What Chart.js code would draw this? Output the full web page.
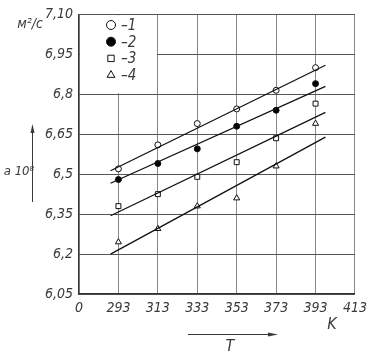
<!DOCTYPE html>
<html>
<head>
<meta charset="utf-8">
<script src="https://cdn.jsdelivr.net/npm/chart.js@4"></script>
<style>
  body { margin: 0; background: #fff; }
  canvas { display: block; }
</style>
</head>
<body>
<canvas id="chart" width="373" height="355"></canvas>
<script>
// temperatures, K
const temps = [293, 313, 333, 353, 373, 393];

// measured a*10^8, m2/s
const series1 = [6.52, 6.61, 6.69, 6.745, 6.815, 6.90];
const series2 = [6.48, 6.54, 6.595, 6.68, 6.74, 6.84];
const series3 = [6.38, 6.425, 6.49, 6.545, 6.635, 6.765];
const series4 = [6.245, 6.295, 6.38, 6.41, 6.53, 6.69];

// fitted straight lines (start / end)
const fitX = [289, 398];
const fit1 = [6.513, 6.909];
const fit2 = [6.466, 6.830];
const fit3 = [6.344, 6.732];
const fit4 = [6.200, 6.639];

const xTickValues = [273, 293, 313, 333, 353, 373, 393, 413];
const xTickLabels = ['0', '293', '313', '333', '353', '373', '393', '413'];
const yTickValues = [6.05, 6.2, 6.35, 6.5, 6.65, 6.8, 6.95, 7.10];
const yTickLabels = ['6,05', '6,2', '6,35', '6,5', '6,65', '6,8', '6,95', '7,10'];

const legendLabels = ['–1', '–2', '–3', '–4'];

const FONT = "'Liberation Sans Narrow', 'DejaVu Sans Condensed', 'Liberation Sans', sans-serif";
const TEXT = '#3a3a3a';

function pts(ys) {
    return temps.map((t, i) => ({ x: t, y: ys[i] }));
}
function fit(ys) {
    return fitX.map((x, i) => ({ x: x, y: ys[i] }));
}

const markerSets = [
    { data: series1, pointStyle: 'circle', fill: '#fff', r: 3 },
    { data: series2, pointStyle: 'circle', fill: '#000', r: 3 },
    { data: series3, pointStyle: 'rect', fill: '#fff', r: 3.5 },
    { data: series4, pointStyle: 'triangle', fill: '#fff', r: 3.5 }
];

const datasets = [];
[fit1, fit2, fit3, fit4].forEach(f => {
    datasets.push({
        type: 'line',
        data: fit(f),
        borderColor: '#111',
        borderWidth: 1.3,
        pointRadius: 0,
        fill: false
    });
});
markerSets.forEach(m => {
    datasets.push({
        type: 'scatter',
        data: pts(m.data),
        pointStyle: m.pointStyle,
        pointRadius: m.r,
        pointBackgroundColor: m.fill,
        pointBorderColor: '#111',
        pointBorderWidth: 1,
        showLine: false
    });
});

// white patch behind legend, legend and axis captions
const decor = {
    id: 'decor',
    beforeDatasetsDraw(chart) {
        const { ctx, scales: { x, y } } = chart;
        ctx.save();
        ctx.fillStyle = '#fff';
        const x0 = x.getPixelForValue(273) + 1, x1 = x.getPixelForValue(313) - 1;
        const y0 = y.getPixelForValue(7.10) + 1, y1 = y.getPixelForValue(6.8) - 1;
        ctx.fillRect(x0, y0, x1 - x0, y1 - y0);
        ctx.restore();
    },
    afterDraw(chart) {
        const { ctx } = chart;
        ctx.save();
        // legend
        markerSets.forEach((m, i) => {
            const py = 25 + i * 16.7;
            ctx.fillStyle = m.fill;
            ctx.strokeStyle = '#111';
            ctx.lineWidth = 1;
            Chart.helpers.drawPoint(ctx, { pointStyle: m.pointStyle, radius: 4.5, borderWidth: 1 }, 111, py);
            ctx.fillStyle = TEXT;
            ctx.font = 'italic 15px ' + FONT;
            ctx.textBaseline = 'middle';
            ctx.textAlign = 'left';
            ctx.fillText(legendLabels[i], 121, py + 1);
        });
        // axis captions
        ctx.fillStyle = TEXT;
        ctx.font = 'italic 14px ' + FONT;
        ctx.textAlign = 'center';
        ctx.textBaseline = 'middle';
        ctx.fillText('м²/с', 30, 24);
        ctx.font = 'italic 13px ' + FONT;
        ctx.fillText('a 10⁸', 19, 172);
        ctx.font = 'italic 16px ' + FONT;
        ctx.fillText('K', 332, 325);
        ctx.fillText('T', 230, 347);
        // arrows
        ctx.strokeStyle = TEXT;
        ctx.fillStyle = TEXT;
        ctx.lineWidth = 1;
        ctx.beginPath();
        ctx.moveTo(32.5, 202); ctx.lineTo(32.5, 130);
        ctx.moveTo(188, 334.5); ctx.lineTo(272, 334.5);
        ctx.stroke();
        ctx.beginPath();
        ctx.moveTo(32.5, 124); ctx.lineTo(30.5, 133); ctx.lineTo(34.5, 133); ctx.closePath();
        ctx.fill();
        ctx.beginPath();
        ctx.moveTo(278, 334.5); ctx.lineTo(268, 332.5); ctx.lineTo(268, 336.5); ctx.closePath();
        ctx.fill();
        ctx.restore();
    }
};

new Chart(document.getElementById('chart'), {
    type: 'scatter',
    data: { datasets: datasets },
    options: {
        responsive: false,
        animation: false,
        layout: { padding: { top: 9, right: 9, left: 0, bottom: 0 } },
        plugins: {
            legend: { display: false },
            tooltip: { enabled: false }
        },
        scales: {
            x: {
                type: 'linear',
                min: 273,
                max: 413,
                afterBuildTicks: s => { s.ticks = xTickValues.map(v => ({ value: v })); },
                afterFit: s => { s.height = 61; },
                ticks: {
                    padding: 6,
                    maxRotation: 0,
                    autoSkip: false,
                    color: TEXT,
                    font: { family: FONT, size: 14, style: 'italic' },
                    callback: (v, i) => xTickLabels[i]
                },
                grid: { color: '#888', lineWidth: 1, drawTicks: false },
                border: { color: '#333', width: 1.2 }
            },
            y: {
                min: 6.05,
                max: 7.10,
                afterBuildTicks: s => { s.ticks = yTickValues.map(v => ({ value: v })); },
                afterFit: s => { s.width = 79; },
                ticks: {
                    padding: 6,
                    autoSkip: false,
                    color: TEXT,
                    font: { family: FONT, size: 14, style: 'italic' },
                    callback: (v, i) => yTickLabels[i]
                },
                grid: { color: '#555', lineWidth: 1, drawTicks: false },
                border: { color: '#333', width: 1.2 }
            }
        }
    },
    plugins: [decor]
});
</script>
</body>
</html>
